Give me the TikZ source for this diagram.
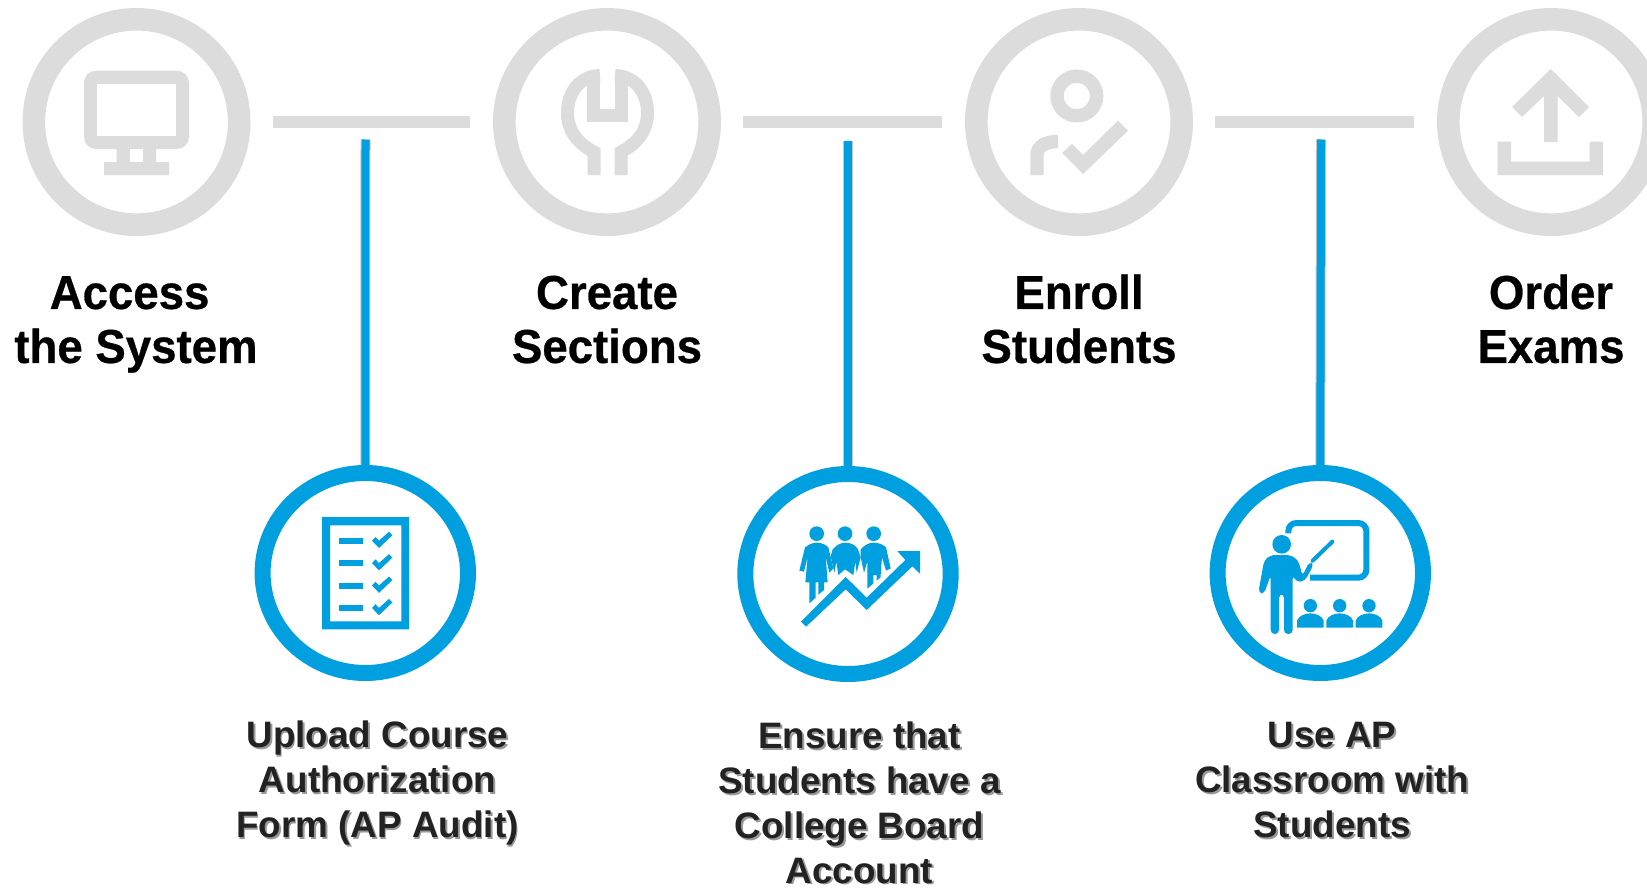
\documentclass[tikz,border=0pt]{standalone}
\usepackage{fontspec}
\setmainfont{Liberation Sans}
\newfontfamily\titlefont[FakeStretch=0.96,BoldFeatures={FakeBold=0.6}]{Liberation Sans}
\usetikzlibrary{calc}
\definecolor{ringgray}{HTML}{DCDCDC}
\definecolor{apblue}{HTML}{009FDF}
\definecolor{labelink}{HTML}{222222}
\newcommand{\firstline}{\rule{0pt}{20pt}}
\tikzset{
  graybar/.style={ringgray,line width=6pt},
  bluebar/.style={apblue,line width=4pt},
  barhalo/.style={black!22,line width=5pt},
  grayicon/.style={fill=ringgray,draw=none},
  blueicon/.style={fill=apblue,draw=none},
  title/.style={anchor=north,align=center,inner sep=0pt,text=black,font=\titlefont\bfseries\fontsize{23.75}{27}\selectfont},
  label/.style={anchor=north,align=center,inner sep=0pt,text=labelink,font=\bfseries\fontsize{18.4}{22.4}\selectfont},
  labelshade/.style={label,text=black!40},
}
\begin{document}
\begin{tikzpicture}[x=0.5pt,y=-0.5pt,line join=miter]
\clip (0,0) rectangle (1647,888);
\fill[white] (0,0) rectangle (1647,888);

% gray step rings
\foreach \n/\cx in {c1/136.5,c2/607,c3/1079,c4/1551}{
  \draw[ringgray,line width=11.3pt] (\cx,122) circle[radius=102.7];
  \node[circle,minimum size=114pt,inner sep=0pt,outer sep=0pt] (\n) at (\cx,122) {};
}
% connectors between gray rings
\draw[graybar,shorten <=11pt,shorten >=11.5pt] (c1) -- (c2);
\draw[graybar,shorten <=11pt,shorten >=11.5pt] (c2) -- (c3);
\draw[graybar,shorten <=11pt,shorten >=11.5pt] (c3) -- (c4);

% blue step rings
\foreach \n/\cx/\cy in {b1/365.3/573,b2/848/574,b3/1320.3/573}{
  \node[circle,minimum size=108pt,inner sep=0pt,outer sep=0pt] (\n) at (\cx,\cy) {};
}
\coordinate (t1) at (365.5,139.5);
\coordinate (t2) at (848,141);
\coordinate (t3) at (1321,139.5);
\foreach \a/\b in {t1/b1,t2/b2,t3/b3}{
  \draw[barhalo] (\a) -- (\b.north);
  \draw[bluebar] (\a) -- (\b.north);
}
\fill[apblue,even odd rule]
  (365.3,573) ellipse[x radius=110.7,y radius=108] (365.3,573) ellipse[x radius=94.7,y radius=92];
\fill[apblue,even odd rule]
  (848,574) ellipse[x radius=110.7,y radius=108] (848,574) ellipse[x radius=94.7,y radius=92];
\fill[apblue,even odd rule]
  (1320.3,573) ellipse[x radius=110.7,y radius=108] (1320.3,573) ellipse[x radius=94.7,y radius=92];

% monitor
\fill[grayicon,even odd rule,rounded corners=6pt] (84,70.7) rectangle (189,149);
\fill[white] (97,84) rectangle (176,136);
\fill[grayicon] (116.7,149) rectangle (156,162) (104,162) rectangle (169,175);
\fill[white] (130,149) rectangle (143,162);

% wrench
\begin{scope}[ringgray,line width=6.5pt,line cap=butt]
\draw (594,175) -- (594,152) .. controls (577,143) and (567.5,130) .. (567.5,113) .. controls (567.5,92) and (580,76) .. (600,75.5);
\draw (621,175) -- (621,152) .. controls (638,143) and (647.5,130) .. (647.5,113) .. controls (647.5,92) and (635,76) .. (615,75.5);
\draw (593.5,75) -- (593.5,115.5) -- (621.5,115.5) -- (621.5,75);
\end{scope}

% person with check
\draw[ringgray,line width=6.7pt] (1076.8,96) circle[radius=19.8];
\draw[ringgray,line width=6.7pt] (1037,175) -- (1037,155) .. controls (1037,146) and (1046,141.5) .. (1058,141.5);
\fill[grayicon] (1062,153) -- (1083,174) -- (1128,130.7) -- (1118,120.7) -- (1083,155) -- (1072,144) -- cycle;

% upload
\fill[grayicon] (1550.7,69) -- (1589,107) -- (1579,117) -- (1557.5,96) -- (1557.5,142) -- (1544,142) -- (1544,96) -- (1522,117) -- (1512,107) -- cycle;
\fill[grayicon] (1497.7,141.7) -- (1511,141.7) -- (1511,161.7) -- (1589.6,161.7) -- (1589.6,141.7) -- (1603,141.7) -- (1603,175) -- (1497.7,175) -- cycle;

% checklist
\fill[blueicon,even odd rule] (322,517) rectangle (409,629.3) (330,525.3) rectangle (401.3,621.3);
\foreach \dy in {0,22.4,44.8,67.2}{
  \fill[blueicon] (339,538+\dy) rectangle (363,544+\dy);
  \fill[blueicon] (372,540.7+\dy) -- (375.5,537+\dy) -- (379,540.7+\dy) -- (389,531.7+\dy) -- (392.3,535.3+\dy) -- (379,548+\dy) -- cycle;
}

% group with rising arrow
\begin{scope}[shift={(790,520)},x=0.16667pt,y=-0.16667pt]
\fill[blueicon] (80,41) circle[radius=22] (165,41) circle[radius=22] (251,41) circle[radius=22];
\fill[blueicon] (33,305) -- (167,171) -- (230,233) -- (346,120) -- (322,93) -- (390,93) -- (390,161) -- (367,139) -- (230,270) -- (167,208) -- (48,320) -- cycle;
\fill[blueicon] (45,82) .. controls (58,72) and (70,68) .. (80,68) .. controls (92,68) and (105,72) .. (115,82) -- (130,145) -- (118,158) -- (107,110) -- (113,187) -- (102,187) -- (102,210) -- (85,224) -- (85,187) -- (77,187) -- (77,233) -- (58,250) -- (58,187) -- (46,187) -- (53,110) -- (42,155) -- (28,152) -- cycle;
\fill[blueicon] (128,88) .. controls (140,73) and (155,68) .. (166,68) .. controls (180,68) and (195,73) .. (204,88) -- (212,112) -- (200,158) -- (196,125) -- (190,165) -- (165,148) -- (145,165) -- (139,125) -- (133,158) -- (122,108) -- cycle;
\fill[blueicon] (212,88) .. controls (225,73) and (240,68) .. (250,68) .. controls (265,68) and (278,73) .. (288,82) -- (302,145) -- (288,152) -- (276,112) -- (272,165) -- (272,172) -- (260,182) -- (260,165) -- (250,165) -- (250,190) -- (232,206) -- (232,125) -- (222,158) -- (212,112) -- cycle;
\end{scope}

% teacher
\begin{scope}[shift={(1190,450)},x=0.16667pt,y=-0.16667pt]
\draw[apblue,line width=3pt,rounded corners=4pt] (295,250) -- (295,219) -- (529,219) -- (529,383) -- (360,383);
\draw[apblue,line width=2pt,line cap=round] (368,332) -- (427,275);
\fill[blueicon] (275,283) circle[radius=28];
\fill[blueicon,rounded corners=2pt] (222,333) .. controls (235,320) and (250,315) .. (265,315) .. controls (285,315) and (300,315) .. (318,325) -- (328,340) -- (337,378) -- (358,335) -- (372,342) -- (345,392) -- (320,397) -- (308,375) -- (308,552) -- (282,552) -- (282,432) -- (267,432) -- (267,552) -- (242,552) -- (242,375) -- (222,432) -- (205,428) -- cycle;
\foreach \dx in {0,88,176}{
  \fill[blueicon] (361+\dx,467) circle[radius=20];
  \fill[blueicon] (321+\dx,533) -- (321+\dx,512) .. controls (325+\dx,498) and (345+\dx,490) .. (361+\dx,490) .. controls (377+\dx,490) and (397+\dx,498) .. (401+\dx,512) -- (401+\dx,533) -- cycle;
}
\end{scope}

% titles
\node[title] (s1) at (136,268.5) {\firstline Access\hspace*{6.4pt}\\the System};
\node[title] (s2) at (607,268.5) {\firstline Create\\Sections};
\node[title] (s3) at (1079,268.5) {\firstline Enroll\\Students};
\node[title] (s4) at (1551,268.5) {\firstline Order\\Exams};

% lower labels (soft shadow, then text)
\node[labelshade] at (379,709) {\firstline Upload Course\\Authorization\\Form (AP Audit)};
\node[labelshade] at (861.5,710) {\firstline Ensure that\\Students have a\\College Board\\Account};
\node[labelshade] at (1334,709) {\firstline Use AP\\Classroom with\\Students};
\node[label] (l1) at (377.5,707.5) {\firstline Upload Course\\Authorization\\Form (AP Audit)};
\node[label] (l2) at (859.5,708.5) {\firstline Ensure that\\Students have a\\College Board\\Account};
\node[label] (l3) at (1332,707.5) {\firstline Use AP\\Classroom with\\Students};
\end{tikzpicture}
\end{document}
